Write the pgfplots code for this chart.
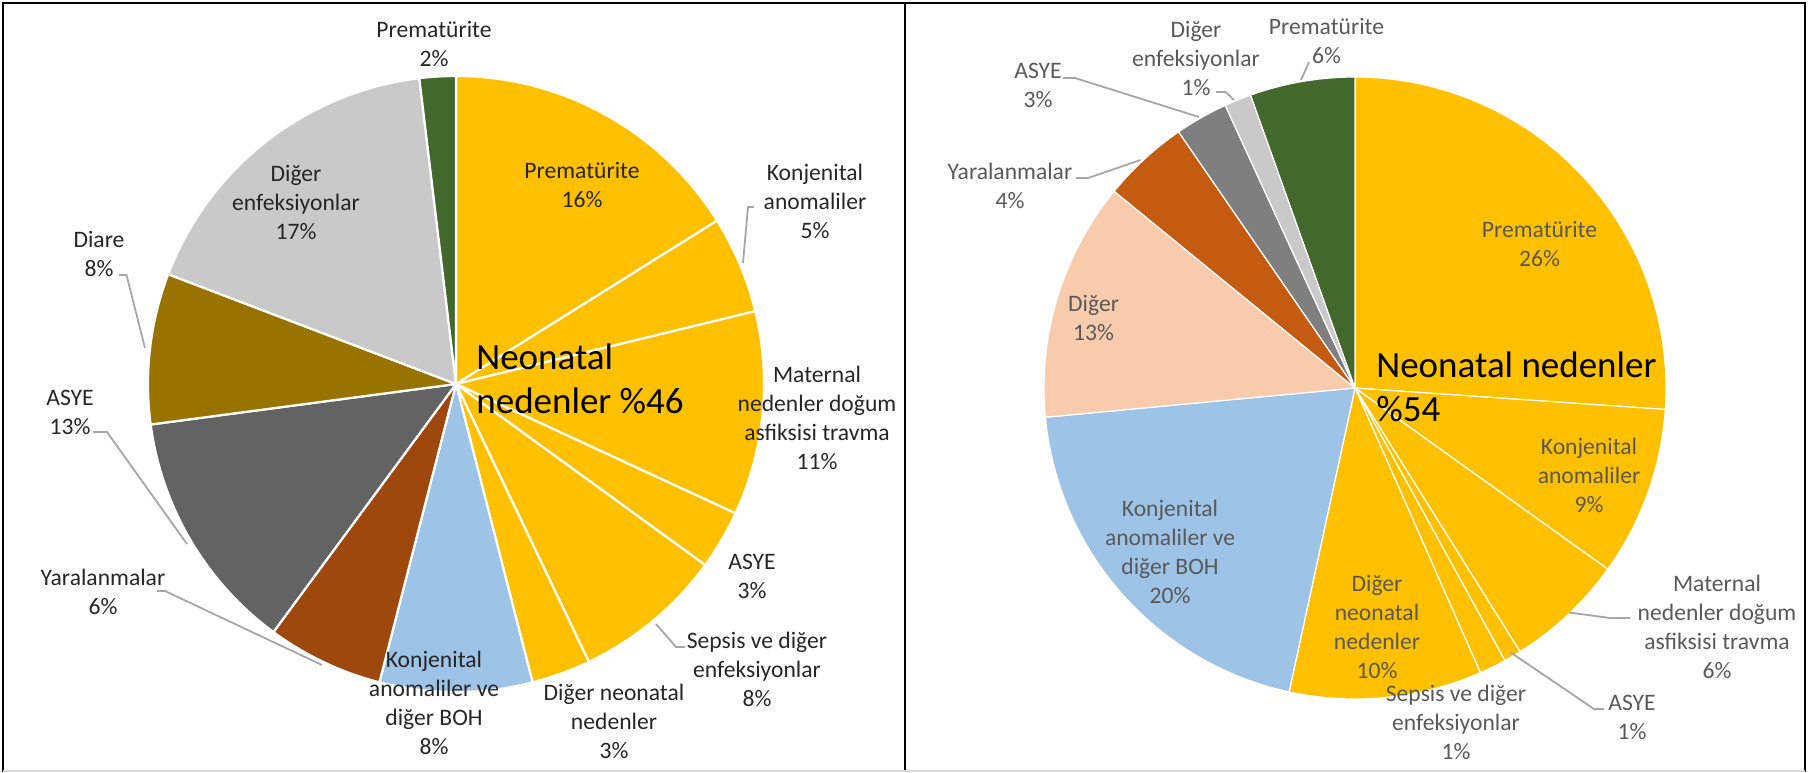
\documentclass[border=0pt]{standalone}
\usepackage{pgfplots}
\pgfplotsset{compat=1.18}
\usepackage{pgfplotstable}
\usepackage{fontspec}
\setmainfont{Carlito}
\definecolor{gold}{HTML}{FFC000}
\definecolor{lblue}{HTML}{9DC3E6}
\definecolor{rust}{HTML}{9E480E}
\definecolor{dgray}{HTML}{636363}
\definecolor{olive}{HTML}{997300}
\definecolor{lgray}{HTML}{C9C9C9}
\definecolor{dgreen}{HTML}{43682B}
\definecolor{peach}{HTML}{F8CBAD}
\definecolor{orng}{HTML}{C55A11}
\definecolor{mgray}{HTML}{7F7F7F}
\definecolor{labA}{HTML}{262626}
\definecolor{labB}{HTML}{595959}
\definecolor{leader}{HTML}{A6A6A6}

% shares in percent, clockwise from 12 o'clock
\pgfplotstableread[col sep=comma]{
name,value,color
Prematürite,16.1,gold
Konjenital anomaliler,5.1,gold
Maternal nedenler doğum asfiksisi travma,10.7,gold
ASYE,3.1,gold
Sepsis ve diğer enfeksiyonlar,7.9,gold
Diğer neonatal nedenler,3.1,gold
Konjenital anomaliler ve diğer BOH,8.0,lblue
Yaralanmalar,6.1,rust
ASYE,12.8,dgray
Diare,7.9,olive
Diğer enfeksiyonlar,17.3,lgray
Prematürite,1.9,dgreen
}\leftpie

\pgfplotstableread[col sep=comma]{
name,value,color
Prematürite,26.1,gold
Konjenital anomaliler,8.8,gold
Maternal nedenler doğum asfiksisi travma,6.2,gold
ASYE,0.9,gold
Sepsis ve diğer enfeksiyonlar,1.4,gold
Diğer neonatal nedenler,10.0,gold
Konjenital anomaliler ve diğer BOH,20.1,lblue
Diğer,12.4,peach
Yaralanmalar,4.5,orng
ASYE,2.75,mgray
Diğer enfeksiyonlar,1.4,lgray
Prematürite,5.45,dgreen
}\rightpie

\newcommand\drawpie[5]{%
  \gdef\cum{0}%
  \pgfplotstableforeachcolumnelement{value}\of#1\as\val{%
    \pgfplotstablegetelem{\pgfplotstablerow}{color}\of#1%
    \let\slicecol\pgfplotsretval
    \pgfmathsetmacro\angA{\cum*3.6}%
    \pgfmathsetmacro\newcum{\cum+\val}%
    \xdef\cum{\newcum}%
    \pgfmathsetmacro\angB{\cum*3.6}%
    \edef\tmp{\noexpand\addplot[fill=\slicecol, draw=white, line width=#5, line join=round, domain=\angA:\angB, samples=60] ({#2+#4*sin(x)},{#3-#4*cos(x)}) -- (axis cs:#2,#3) -- cycle;}%
    \tmp
  }%
}
\newcommand\lblfont{\fontsize{11.8bp}{14.5bp}\selectfont}
\newcommand\bigfont{\fontsize{18.5bp}{22.3bp}\selectfont}
\newcommand\lbl[4]{\node[align=center, inner sep=0pt, font=\lblfont, text=#1] at (axis cs:#2,#3) {#4};}

\begin{document}
\begin{tikzpicture}
\begin{axis}[scale only axis, width=910bp, height=386.5bp,
  xmin=0, xmax=1820, ymin=0, ymax=773, y dir=reverse,
  hide axis, clip=false]
\path (axis cs:0,0) rectangle (axis cs:1820,773);
\drawpie{\leftpie}{456}{384}{308}{1.1bp}
\drawpie{\rightpie}{1355}{388}{311}{0.6bp}

% frame
\draw[black, line width=1bp] (axis cs:3,772) -- (axis cs:3,3) -- (axis cs:1805,3) -- (axis cs:1805,772);
\draw[black, line width=1bp] (axis cs:905,3) -- (axis cs:905,772);
\draw[black!15, line width=1bp] (axis cs:3,771) -- (axis cs:1805,771);

% leader lines left
\draw[leader, line width=0.9bp] (axis cs:754,207) -- (axis cs:748,207) -- (axis cs:743,263);
\draw[leader, line width=0.9bp] (axis cs:119,275) -- (axis cs:126.5,275) -- (axis cs:145,348);
\draw[leader, line width=0.9bp] (axis cs:93,432) -- (axis cs:107,432) -- (axis cs:187,544);
\draw[leader, line width=0.9bp] (axis cs:157,591) -- (axis cs:165,591) -- (axis cs:322,665);
\draw[leader, line width=0.9bp] (axis cs:685,647) -- (axis cs:676,647) -- (axis cs:656,624);
% leader lines right
\draw[leader, line width=0.9bp] (axis cs:1309,62) -- (axis cs:1301,80);
\draw[leader, line width=0.9bp] (axis cs:1216,92) -- (axis cs:1225.6,92) -- (axis cs:1234,100);
\draw[leader, line width=0.9bp] (axis cs:1063,78) -- (axis cs:1075,78) -- (axis cs:1199,117);
\draw[leader, line width=0.9bp] (axis cs:1076,178) -- (axis cs:1088,178) -- (axis cs:1140.5,160);
\draw[leader, line width=0.9bp] (axis cs:1630,618) -- (axis cs:1610,618) -- (axis cs:1569,612.5);
\draw[leader, line width=0.9bp] (axis cs:1604,709) -- (axis cs:1594,709) -- (axis cs:1510,652);

% labels left
\lbl{labA}{434}{44}{Prematürite\\2\%}
\lbl{labA}{582}{184.5}{Prematürite\\16\%}
\lbl{labA}{815}{201}{Konjenital\\anomaliler\\5\%}
\lbl{labA}{296}{202}{Diğer\\enfeksiyonlar\\17\%}
\lbl{labA}{99}{253.5}{Diare\\8\%}
\lbl{labA}{817}{418}{Maternal\\nedenler doğum\\asfiksisi travma\\11\%}
\lbl{labA}{70}{412.5}{ASYE\\13\%}
\lbl{labA}{752}{576.5}{ASYE\\3\%}
\lbl{labA}{103}{592}{Yaralanmalar\\6\%}
\lbl{labA}{757}{669}{Sepsis ve diğer\\enfeksiyonlar\\8\%}
\lbl{labA}{434}{702.5}{Konjenital\\anomaliler ve\\diğer BOH\\8\%}
\lbl{labA}{614}{721}{Diğer neonatal\\nedenler\\3\%}
\node[anchor=west, align=left, inner sep=0pt, font=\bigfont, text=black] at (axis cs:476,379) {Neonatal\\nedenler \%46};

% labels right
\lbl{labB}{1196}{58}{Diğer\\enfeksiyonlar\\1\%}
\lbl{labB}{1326.5}{40.5}{Prematürite\\6\%}
\lbl{labB}{1038}{85.5}{ASYE\\3\%}
\lbl{labB}{1010}{186}{Yaralanmalar\\4\%}
\lbl{labB}{1539.5}{243.5}{Prematürite\\26\%}
\lbl{labB}{1093.6}{317.5}{Diğer\\13\%}
\lbl{labB}{1589}{475.5}{Konjenital\\anomaliler\\9\%}
\lbl{labB}{1170}{552}{Konjenital\\anomaliler ve\\diğer BOH\\20\%}
\lbl{labB}{1377}{627}{Diğer\\neonatal\\nedenler\\10\%}
\lbl{labB}{1717}{627}{Maternal\\nedenler doğum\\asfiksisi travma\\6\%}
\lbl{labB}{1456}{722}{Sepsis ve diğer\\enfeksiyonlar\\1\%}
\lbl{labB}{1632}{717}{ASYE\\1\%}
\node[anchor=west, align=left, inner sep=0pt, font=\bigfont, text=black] at (axis cs:1376,387) {Neonatal nedenler\\\%54};
\end{axis}
\end{tikzpicture}
\end{document}
